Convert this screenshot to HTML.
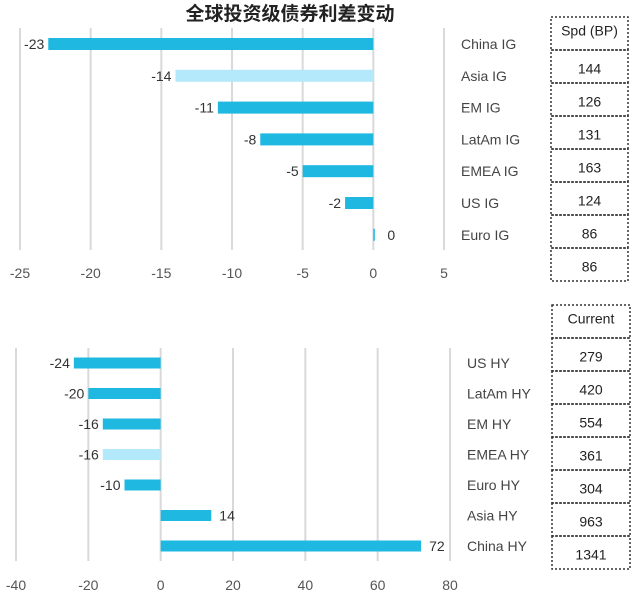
<!DOCTYPE html>
<html><head><meta charset="utf-8"><style>
body{margin:0;background:#fff;font-family:"Liberation Sans","Noto Sans CJK SC",sans-serif}
svg text{font-family:"Liberation Sans","Noto Sans CJK SC",sans-serif}
</style></head><body>
<svg id="c" width="639" height="602" viewBox="0 0 639 602">
<text x="290" y="20" text-anchor="middle" font-size="19" font-weight="bold" fill="#222">全球投资级债券利差变动</text>
<g id="top"></g><g id="bot"></g>
</svg>
<script>
const igCats=["China IG","Asia IG","EM IG","LatAm IG","EMEA IG","US IG","Euro IG"];
const igVals=[-23,-14,-11,-8,-5,-2,0];
const igTicks=[-25,-20,-15,-10,-5,0,5];
const igSpd=["Spd (BP)","144","126","131","163","124","86","86"];
const hyCats=["US HY","LatAm HY","EM HY","EMEA HY","Euro HY","Asia HY","China HY"];
const hyVals=[-24,-20,-16,-16,-10,14,72];
const hyTicks=[-40,-20,0,20,40,60,80];
const hyCur=["Current","279","420","554","361","304","963","1341"];
const NS="http://www.w3.org/2000/svg";
function mk(p,t,a){const e=document.createElementNS(NS,t);for(const k in a)e.setAttribute(k,a[k]);p.appendChild(e);return e;}
function panel(g,cats,vals,ticks,tab,o){
  const x=v=>o.x0+(v-ticks[0])/(ticks[ticks.length-1]-ticks[0])*(o.x1-o.x0);
  ticks.forEach(t=>{
    const l=mk(g,"line",{x1:x(t),x2:x(t),y1:o.gt,y2:o.gb,stroke:"#d9d9d9","stroke-width":2});
    
    
    const tx=mk(g,"text",{x:x(t),y:o.ty,"text-anchor":"middle","font-size":14,fill:"#555"});
    tx.textContent=t;
    
    
  });
  cats.forEach((c,i)=>{
    const cy=o.r0+i*o.dr,v=vals[i];
    const a=Math.min(x(0),x(v)),w=Math.max(Math.abs(x(v)-x(0)),1.5);
    const b=mk(g,"rect",{x:a,y:cy-o.bh/2,width:w,height:o.bh,fill:o.light.includes(i)?"#b3e9fa":"#1fb8e0"});
    
    
    const vl=mk(g,"text",{x:v<0?x(v)-4:x(v)+ (v===0?14:8),y:cy+5,"text-anchor":v<0?"end":"start","font-size":14,fill:"#333"});
    vl.textContent=v;
    
    
    const cl=mk(g,"text",{x:o.cx,y:cy+5,"font-size":14,fill:"#444"});
    cl.textContent=c;
    
    
  });
  tab.forEach((s,i)=>{
    const y=o.tt+i*o.th;
    const r=mk(g,"rect",{x:o.tx,y:y,width:o.tw,height:o.th,fill:"none",stroke:"#333","stroke-width":1.5,"stroke-dasharray":"2,2"});
    
    
    const t=mk(g,"text",{x:o.tx+o.tw/2,y:y+o.th/2+(i==0?2:7),"text-anchor":"middle","font-size":14,fill:"#222"});
    t.textContent=s;
    
    
  });
}
panel(document.getElementById("top"),igCats,igVals,igTicks,igSpd,{x0:20,x1:444,gt:28,gb:250,ty:278,r0:44,dr:31.8,bh:12,light:[1],cx:461,tx:551,tw:77,tt:17,th:33});
panel(document.getElementById("bot"),hyCats,hyVals,hyTicks,hyCur,{x0:16,x1:450,gt:348,gb:561,ty:590,r0:363,dr:30.5,bh:11,light:[3],cx:467,tx:552,tw:78,tt:305,th:33});
</script>
</body></html>
